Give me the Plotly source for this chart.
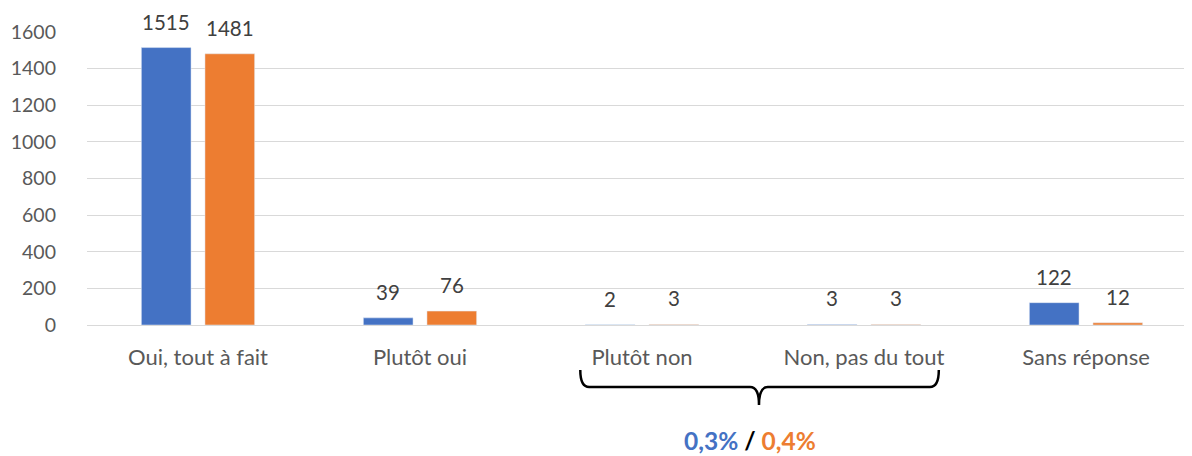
import plotly.graph_objects as go

categories = ["Oui, tout à fait", "Plutôt oui", "Plutôt non", "Non, pas du tout", "Sans réponse"]
serie_bleue = [1515, 39, 2, 3, 122]
serie_orange = [1481, 76, 3, 3, 12]
y_ticks = [0, 200, 400, 600, 800, 1000, 1200, 1400, 1600]

BLUE = "#4472C4"
ORANGE = "#ED7D31"
FONT = "Lato"

fig = go.Figure()
fig.add_bar(x=categories, y=serie_bleue, marker_color=BLUE, name="A")
fig.add_bar(x=categories, y=serie_orange, marker_color=ORANGE, name="B")

annotations = []
for i, (b, o) in enumerate(zip(serie_bleue, serie_orange)):
    for val, off in ((b, -0.143), (o, 0.143)):
        annotations.append(dict(x=i + off, y=val, xref="x", yref="y", text=str(val),
                                showarrow=False, yanchor="bottom", yshift=12,
                                font=dict(family=FONT, size=20.5, color="#404040")))

annotations.append(dict(x=2.487, y=-0.394, xref="x", yref="paper", yanchor="middle",
                        borderpad=0,
                        text='<b><span style="color:%s">0,3%%</span> <span style="color:#000000">/</span> <span style="color:%s">0,4%%</span></b>' % (BLUE, ORANGE),
                        showarrow=False, font=dict(family=FONT, size=24.5)))

x0, x1, xm = 1.722, 3.337, 2.527
yt, ym, yb = -0.154, -0.212, -0.273
brace = (f"M {x0},{yt} Q {x0},{ym} {x0+0.04},{ym} L {xm-0.04},{ym} "
         f"Q {xm},{ym} {xm},{yb} Q {xm},{ym} {xm+0.04},{ym} "
         f"L {x1-0.04},{ym} Q {x1},{ym} {x1},{yt}")

fig.update_layout(
    width=1192, height=456,
    margin=dict(l=71, r=3, t=24, b=139),
    plot_bgcolor="white", paper_bgcolor="white",
    showlegend=False,
    barmode="group", bargap=0.427, bargroupgap=0.219,
    font=dict(family=FONT, size=19, color="#595959"),
    annotations=annotations,
    shapes=[dict(type="path", path=brace, xref="x", yref="paper",
                 line=dict(color="black", width=2.5))],
    xaxis=dict(showgrid=False, ticks="", ticklabelstandoff=17,
               tickfont=dict(family=FONT, size=22, color="#595959"), showline=False),
    yaxis=dict(range=[0, 1600], tickvals=y_ticks, showgrid=True, gridcolor="#D9D9D9",
               gridwidth=1.3, zeroline=True, zerolinecolor="#D9D9D9", zerolinewidth=1.3,
               ticks="", ticklabelstandoff=30,
               tickfont=dict(family=FONT, size=19.5, color="#595959")),
)

fig.write_html("out.html")
